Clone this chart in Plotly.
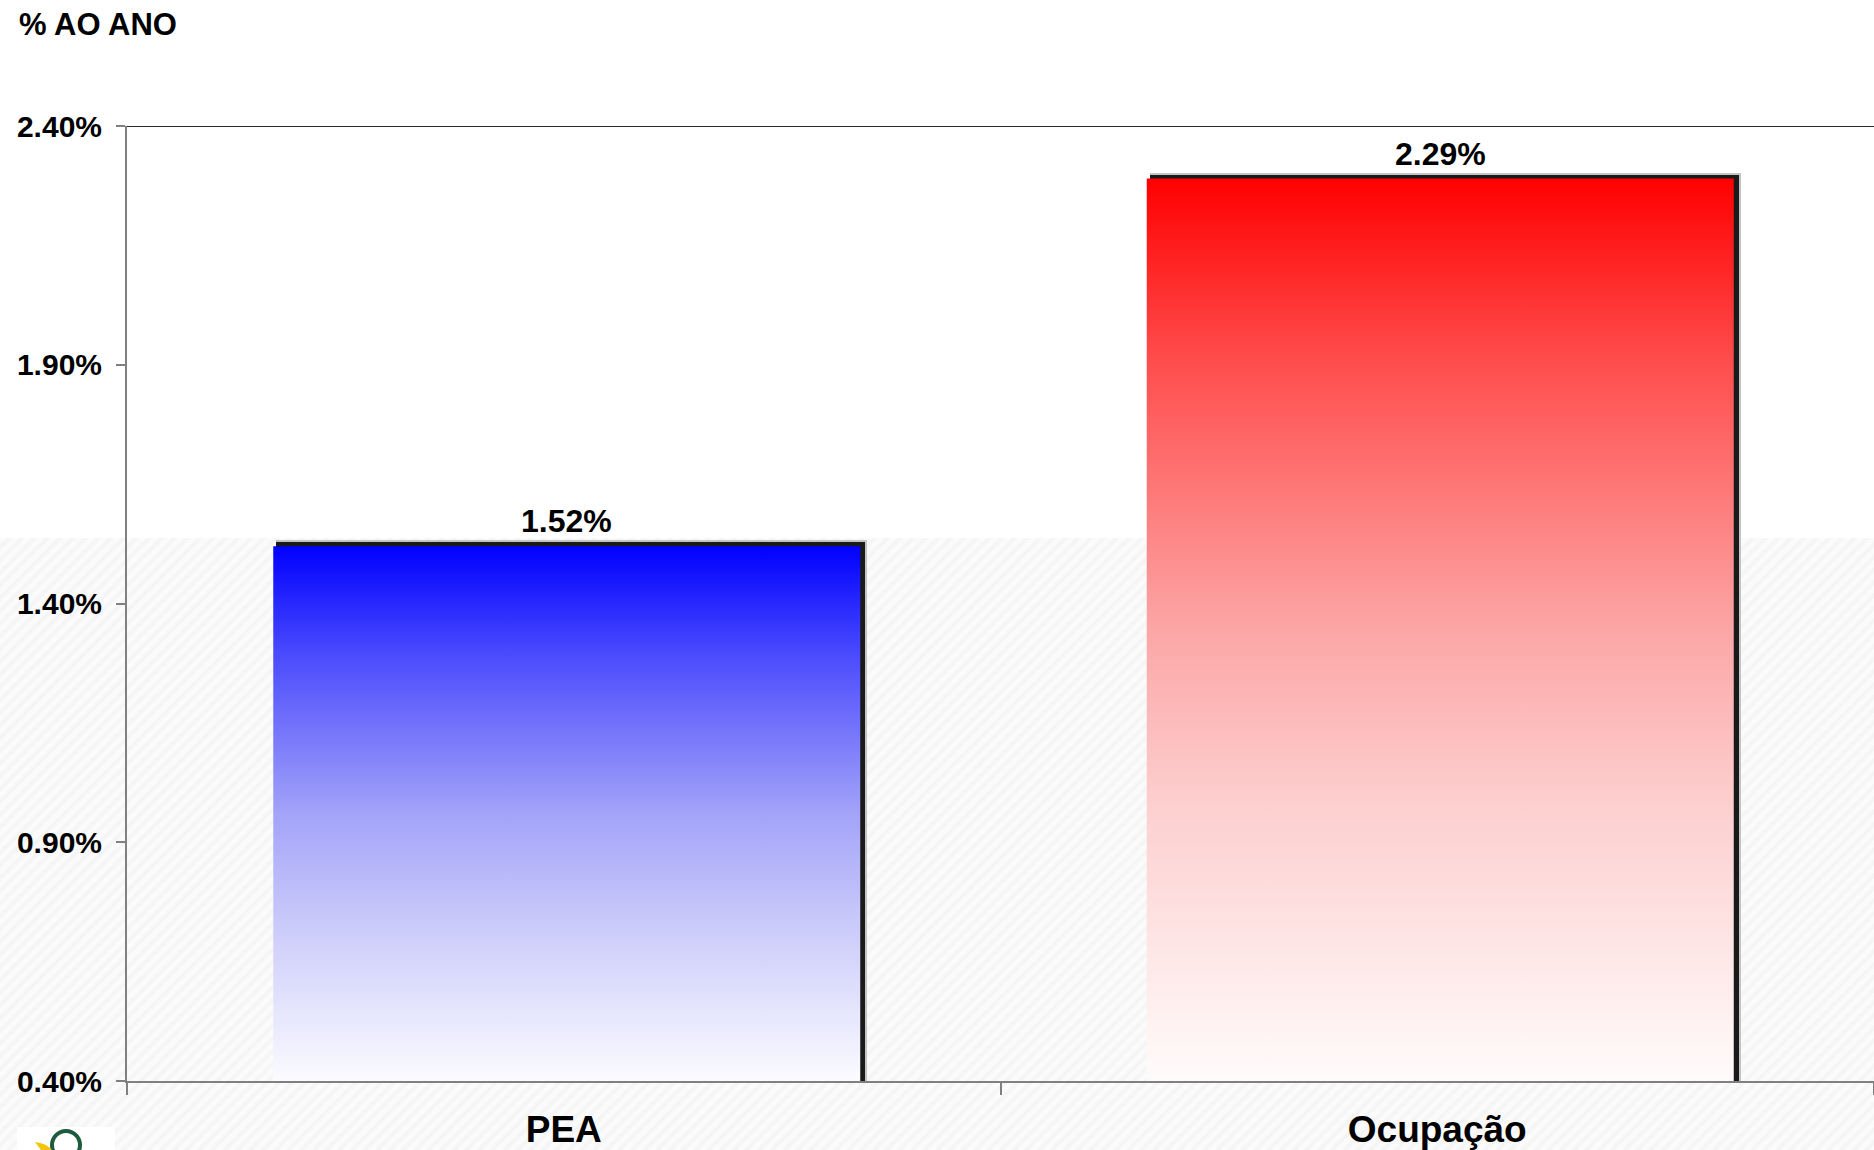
import plotly.graph_objects as go

# ---- data ----
categories = ["PEA", "Ocupação"]
values = [1.52, 2.29]
ytick_vals = [0.40, 0.90, 1.40, 1.90, 2.40]
ytick_text = ["0.40%", "0.90%", "1.40%", "1.90%", "2.40%"]
title_text = "% AO ANO"

blue_scale = [[0, "#fbfbff"], [0.3, "#c9c9fa"], [0.5, "#a3a3f9"], [0.8, "#4a4afd"], [1, "#0000ff"]]
red_scale = [[0, "#fffbfb"], [0.3, "#fdd0d0"], [0.5, "#fca6a6"], [0.8, "#ff4c4c"], [1, "#ff0000"]]
scales = [blue_scale, red_scale]

W_PX, H_PX = 1874, 1150
FONT = "Liberation Sans, Arial, sans-serif"

x_pos = list(range(len(categories)))
PXX = 1 / 873.5     # one pixel in x units
PXY = 2.0 / 955     # one pixel in y units
BW = 587 * PXX      # bar width (category units)
SHIFT = 3 * PXX     # bars sit slightly right of category centre

fig = go.Figure()

# ---- background hatch (page level, lower part) ----
hatch_top = H_PX - 538
fig.add_trace(go.Scatter(
    x=[0, W_PX, W_PX, 0, 0], y=[0, 0, hatch_top, hatch_top, 0],
    xaxis="x", yaxis="y", mode="lines", line=dict(width=0),
    fill="toself", fillcolor="#fbfbfb",
    fillpattern=dict(shape="/", bgcolor="#fbfbfb", fgcolor="#efefef", size=9, solidity=0.45),
    hoverinfo="skip", showlegend=False))

# ---- shadows (bars) ----
for color, extra in (("#c4c4c4", 6), ("#1a1a1a", 4)):
    fig.add_trace(go.Bar(
        x=x_pos, y=[v - 0.4 + extra * PXY for v in values], base=0.4,
        width=BW + (extra - 2) * PXX, offset=-BW / 2 + SHIFT + 3 * PXX,
        marker=dict(color=color, line=dict(width=0)),
        xaxis="x2", yaxis="y2", hoverinfo="skip", showlegend=False))

# ---- gradient bars ----
for i, v in enumerate(values):
    x0, x1 = x_pos[i] + SHIFT - BW / 2, x_pos[i] + SHIFT + BW / 2
    fig.add_trace(go.Scatter(
        x=[x0, x1, x1, x0, x0], y=[0.4, 0.4, v, v, 0.4],
        xaxis="x2", yaxis="y2", mode="lines", line=dict(width=0),
        fill="toself", fillgradient=dict(type="vertical", colorscale=scales[i]),
        name=categories[i], showlegend=False))

# ---- value labels ----
for i, v in enumerate(values):
    fig.add_annotation(x=x_pos[i] + SHIFT, y=v, xref="x2", yref="y2", yshift=25,
                       text=f"{v:.2f}%", showarrow=False, yanchor="middle",
                       font=dict(family=FONT, size=32, color="black", weight="bold"))

# ---- title ----
fig.add_annotation(x=17 / W_PX, y=1 - 24 / H_PX, xref="paper", yref="paper",
                   text=title_text, showarrow=False, xanchor="left", yanchor="middle",
                   font=dict(family=FONT, size=31, color="black", weight="bold"))

# ---- top border line of plot ----
fig.add_shape(type="line", xref="x2 domain", yref="y2", x0=0, x1=1, y0=2.4, y1=2.4,
              line=dict(color="#2a2a2a", width=2))

# ---- logo (bottom-left) ----
fig.add_shape(type="rect", xref="x", yref="y", x0=17, x1=115, y0=0, y1=23,
              fillcolor="white", line=dict(width=0))
fig.add_shape(type="circle", xref="x", yref="y", x0=52, x1=80, y0=-9, y1=19,
              line=dict(color="#1e5b3e", width=4))
fig.add_shape(type="path", xref="x", yref="y", path="M 35 8 Q 46 7 52 0 L 41 0 Z",
              fillcolor="#f2c500", line=dict(width=0))

fig.update_layout(
    width=W_PX, height=H_PX,
    margin=dict(l=0, r=0, t=0, b=0, autoexpand=False),
    paper_bgcolor="white", plot_bgcolor="rgba(0,0,0,0)",
    showlegend=False, bargap=0,
    xaxis=dict(domain=[0, 1], range=[0, W_PX], visible=False, fixedrange=True, automargin=False),
    yaxis=dict(domain=[0, 1], range=[0, H_PX], visible=False, fixedrange=True, automargin=False),
    xaxis2=dict(domain=[127 / W_PX, 1], range=[-0.5, 1.5], anchor="y2", automargin=False,
                tickvals=x_pos, ticktext=categories, ticks="",
                minor=dict(tickvals=[-0.5, 0.5, 1.5], ticks="outside", ticklen=12,
                           tickcolor="#808080", tickwidth=2),
                showline=True, linecolor="#808080", linewidth=2,
                showgrid=False, zeroline=False, ticklabelstandoff=15,
                tickfont=dict(family=FONT, size=37, color="black", weight="bold")),
    yaxis2=dict(domain=[(H_PX - 1081) / H_PX, (H_PX - 126) / H_PX], range=[0.4, 2.4],
                anchor="x2", automargin=False, tickvals=ytick_vals, ticktext=ytick_text,
                ticks="outside", ticklen=9, tickcolor="#808080", tickwidth=2,
                showline=True, linecolor="#808080", linewidth=2,
                showgrid=False, zeroline=False, ticklabelstandoff=8,
                tickfont=dict(family=FONT, size=30, color="black", weight="bold")),
)

fig.write_html("out.html", config={"displayModeBar": False},
               post_script="document.body.style.margin='0';")
